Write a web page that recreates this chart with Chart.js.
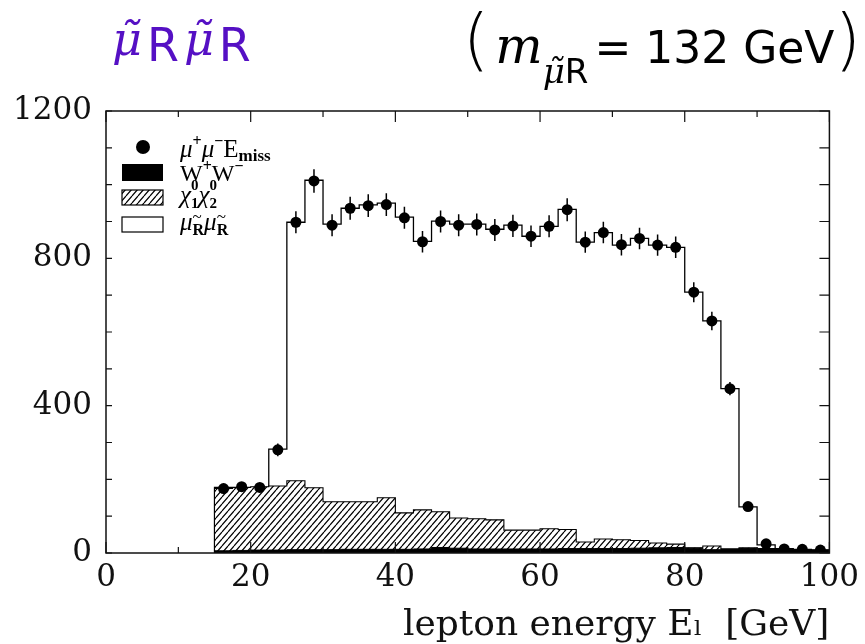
<!DOCTYPE html>
<html>
<head>
<meta charset="utf-8">
<title>smuon pair lepton energy</title>
<script src="https://cdn.jsdelivr.net/npm/chart.js@4.4.1/dist/chart.umd.min.js"></script>
<style>
body { margin: 0; background: #fff; }
#wrap { position: relative; width: 865px; height: 644px; }
#tl { position: absolute; left: 112px; top: 12px; font: 46px "DejaVu Sans"; color: #5510c4; white-space: nowrap; letter-spacing: 5px; }
#tl .mu { font-family: "DejaVu Serif"; font-style: italic; }
#tl .r { position: relative; top: 6px; }
#tr { position: absolute; right: 4px; top: 0px; font: 44px "DejaVu Sans"; color: #000; white-space: nowrap; }
#tr .p { font-size: 68px; font-weight: 200; }
#tr .m { font-family: "DejaVu Serif"; font-style: italic; font-size: 50px; margin-left: 6px; }
#tr .s { font-size: 34px; position: relative; top: 20px; margin-right: 6px; }
#tr .s i { font-family: "DejaVu Serif"; }
</style>
</head>
<body>
<div id="wrap">
  <canvas id="chart" width="865" height="644"></canvas>
  <div id="tl"><span class="mu">μ̃</span><span class="r">R</span><span class="mu">μ̃</span><span class="r">R</span></div>
  <div id="tr"><span class="p">(</span><span class="m">m</span><span class="s"><i>μ̃</i>R</span>= 132 GeV<span class="p">)</span></div>
</div>
<script>
document.addEventListener('DOMContentLoaded', () => {

//////////////////////// data (2.5 GeV bins) ////////////////////////
// lower bin edges, the last bin ends at 100
const binLo = [15, 17.5, 20, 22.5, 25, 27.5, 30, 32.5, 35, 37.5, 40, 42.5,
  45, 47.5, 50, 52.5, 55, 57.5, 60, 62.5, 65, 67.5, 70, 72.5, 75, 77.5,
  80, 82.5, 85, 87.5, 90, 92.5, 95, 97.5];
const binHi = 100;

// W+W- background (black)
const wwEvents = [6, 7, 8, 8, 9, 9, 9, 10, 10, 10, 10, 11, 15, 13, 11, 11, 11, 11,
  11, 12, 12, 12, 12, 13, 14, 15, 13, 9, 11, 12, 12, 10, 9, 8];
// chi1 chi2 background (hatched), sits on top of W+W-
const chiEvents = [169, 171, 172, 174, 187, 168, 130, 129, 129, 140, 99, 106,
  97, 82, 82, 79, 51, 51, 55, 52, 18, 26, 24, 21, 13, 9, 1, 10, 0, 2,
  0, 0, 0, 0];
// total MC including the smuon signal (white)
const totalEvents = [178, 178, 178, 282, 898, 1012, 893, 936, 945, 950, 912, 846,
  901, 893, 893, 879, 890, 860, 887, 933, 844, 870, 836, 854, 836, 830,
  708, 630, 446, 125, 22, 12, 10, 8];
// mu+ mu- E_miss data points and their errors
const dataEvents = [175, 180, 178, 280, 898, 1010, 890, 936, 943, 946, 910, 845,
  900, 890, 892, 877, 888, 860, 887, 932, 844, 870, 837, 854, 836, 830,
  708, 630, 446, 126, 25, 11, 10, 8];
const dataErrors = [13, 13, 13, 17, 30, 32, 30, 31, 31, 31, 30, 29,
  30, 30, 30, 30, 30, 29, 30, 31, 29, 29, 29, 29, 29, 29,
  27, 25, 18, 11, 5, 4, 4, 3];

const xTicks = [0, 20, 40, 60, 80, 100];
const yTicks = [0, 400, 800, 1200];
const xMinor = [0, 10, 20, 30, 40, 50, 60, 70, 80, 90, 100];
const yMinor = [0, 100, 200, 300, 400, 500, 600, 700, 800, 900, 1000, 1100, 1200];

//////////////////////// helpers ////////////////////////
// points for a stepped histogram outline, closed down to zero at both ends
function stepPoints(vals) {
  const pts = [{ x: binLo[0], y: 0 }];
  vals.forEach((v, i) => pts.push({ x: binLo[i], y: v }));
  pts.push({ x: binHi, y: vals[vals.length - 1] });
  pts.push({ x: binHi, y: 0 });
  return pts;
}

function makeHatch() {
  const w = 6, h = 7;
  const c = document.createElement('canvas');
  c.width = w; c.height = h;
  const g = c.getContext('2d');
  g.fillStyle = '#fff';
  g.fillRect(0, 0, w, h);
  g.strokeStyle = '#000';
  g.lineWidth = 1.2;
  g.beginPath();
  g.moveTo(0, h); g.lineTo(w, 0);
  g.moveTo(-w, h); g.lineTo(0, 0);
  g.moveTo(w, h); g.lineTo(2 * w, 0);
  g.stroke();
  return g.createPattern(c, 'repeat');
}
const hatch = makeHatch();

const chiTop = chiEvents.map((v, i) => v + wwEvents[i]);
const dataPoints = dataEvents.map((v, i) => ({ x: binLo[i] + 1.25, y: v }));

// draws text pieces one after another, each with its own font and shift
function rich(ctx, x, y, parts) {
  parts.forEach(p => {
    ctx.font = p.f;
    ctx.fillText(p.t, x + (p.dx || 0), y + (p.dy || 0));
    if (!p.stay) x += ctx.measureText(p.t).width;
  });
}

//////////////////////// plugins ////////////////////////
const frame = {
  id: 'frame',
  afterDatasetsDraw(chart) {
    const { ctx, chartArea: a, scales: { x, y } } = chart;
    ctx.save();
    ctx.strokeStyle = '#111';
    ctx.lineWidth = 1.5;
    ctx.strokeRect(a.left, a.top, a.right - a.left, a.bottom - a.top);
    ctx.lineWidth = 1.2;
    ctx.beginPath();
    xMinor.forEach(v => {
      const px = x.getPixelForValue(v);
      const len = v % 20 === 0 ? 11 : 6;
      ctx.moveTo(px, a.top); ctx.lineTo(px, a.top + len);
      ctx.moveTo(px, a.bottom); ctx.lineTo(px, a.bottom - len);
    });
    yMinor.forEach(v => {
      const py = y.getPixelForValue(v);
      ctx.moveTo(a.left, py); ctx.lineTo(a.left + 6, py);
      ctx.moveTo(a.right, py); ctx.lineTo(a.right - 10, py);
    });
    ctx.stroke();
    ctx.restore();
  }
};

const errorBars = {
  id: 'errorBars',
  afterDatasetsDraw(chart) {
    const { ctx, scales: { x, y } } = chart;
    ctx.save();
    ctx.strokeStyle = '#000';
    ctx.lineWidth = 1.5;
    ctx.beginPath();
    dataEvents.forEach((v, i) => {
      const px = x.getPixelForValue(binLo[i] + 1.25);
      ctx.moveTo(px, y.getPixelForValue(v - dataErrors[i]));
      ctx.lineTo(px, y.getPixelForValue(v + dataErrors[i]));
    });
    ctx.stroke();
    ctx.restore();
  }
};

const legendBox = {
  id: 'legendBox',
  afterDraw(chart) {
    const ctx = chart.ctx;
    const serif = '"Liberation Serif"';
    const big = 'italic 25px ' + serif;
    ctx.save();
    ctx.fillStyle = '#000';
    ctx.strokeStyle = '#000';
    ctx.lineWidth = 1.2;
    ctx.textBaseline = 'alphabetic';
    ctx.textAlign = 'left';
    // data symbol
    ctx.beginPath();
    ctx.arc(143, 147, 7, 0, Math.PI * 2);
    ctx.fill();
    rich(ctx, 180, 157, [
      { t: 'μ', f: big },
      { t: '+', f: 'bold 16px ' + serif, dy: -11 },
      { t: 'μ', f: big },
      { t: '−', f: 'bold 16px ' + serif, dy: -11 },
      { t: 'E', f: '25px ' + serif },
      { t: 'miss', f: 'bold 17px ' + serif, dy: 4 }
    ]);
    // W+W-
    ctx.fillRect(122, 164, 41, 17);
    rich(ctx, 180, 181, [
      { t: 'W', f: '24px ' + serif },
      { t: '+', f: 'bold 16px ' + serif, dy: -10 },
      { t: 'W', f: '24px ' + serif },
      { t: '−', f: 'bold 16px ' + serif, dy: -10 }
    ]);
    // chi chi
    ctx.fillStyle = hatch;
    ctx.fillRect(122, 190, 41, 15);
    ctx.strokeRect(122, 190, 41, 15);
    ctx.fillStyle = '#000';
    rich(ctx, 180, 203, [
      { t: 'χ', f: big },
      { t: '0', f: 'bold 15px ' + serif, dy: -13, stay: true },
      { t: '1', f: 'bold 15px ' + serif, dy: 5 },
      { t: 'χ', f: big },
      { t: '0', f: 'bold 15px ' + serif, dy: -13, stay: true },
      { t: '2', f: 'bold 15px ' + serif, dy: 5 }
    ]);
    // smuon pair
    ctx.fillStyle = '#fff';
    ctx.fillRect(122, 217, 41, 15);
    ctx.strokeRect(122, 217, 41, 15);
    ctx.fillStyle = '#000';
    rich(ctx, 180, 230, [
      { t: 'μ', f: big },
      { t: '~', f: '17px ' + serif, dy: -8, stay: true },
      { t: 'R', f: 'bold 16px ' + serif, dy: 5 },
      { t: 'μ', f: big },
      { t: '~', f: '17px ' + serif, dy: -8, stay: true },
      { t: 'R', f: 'bold 16px ' + serif, dy: 5 }
    ]);
    ctx.restore();
  }
};

//////////////////////// chart ////////////////////////
const tickFont = { family: '"DejaVu Serif"', size: 31 };

new Chart(document.getElementById('chart'), {
  type: 'line',
  data: {
    datasets: [
      {
        label: 'μ+μ- E_miss',
        data: dataPoints,
        showLine: false,
        pointRadius: 5.5,
        pointHoverRadius: 5.5,
        pointBackgroundColor: '#000',
        pointBorderColor: '#000',
        pointBorderWidth: 0
      },
      {
        label: 'W+W-',
        data: stepPoints(wwEvents),
        stepped: 'before',
        borderColor: '#000',
        borderWidth: 1,
        backgroundColor: '#000',
        fill: 'origin',
        pointRadius: 0
      },
      {
        label: 'χ1χ2',
        data: stepPoints(chiTop),
        stepped: 'before',
        borderColor: '#000',
        borderWidth: 1.1,
        backgroundColor: hatch,
        fill: 'origin',
        pointRadius: 0
      },
      {
        label: 'smuon pair',
        data: stepPoints(totalEvents),
        stepped: 'before',
        borderColor: '#000',
        borderWidth: 1.3,
        backgroundColor: '#fff',
        fill: 'origin',
        pointRadius: 0
      }
    ]
  },
  options: {
    responsive: false,
    animation: false,
    events: [],
    layout: { padding: { left: 0, top: 111, right: 34, bottom: 0 } },
    plugins: {
      legend: { display: false },
      tooltip: { enabled: false }
    },
    scales: {
      x: {
        type: 'linear',
        min: 0,
        max: 100,
        afterFit: s => { s.height = 91; },
        afterBuildTicks: s => { s.ticks = xTicks.map(v => ({ value: v })); },
        grid: { display: false, drawTicks: false },
        border: { display: false },
        ticks: { color: '#111', font: tickFont, padding: 6, maxRotation: 0, callback: v => String(v) },
        title: {
          display: true,
          text: 'lepton energy Eₗ  [GeV]',
          align: 'end',
          color: '#111',
          font: { family: '"DejaVu Serif"', size: 36 },
          padding: { top: 0, bottom: -3 }
        }
      },
      y: {
        min: 0,
        max: 1200,
        afterFit: s => { s.width = 106; },
        afterBuildTicks: s => { s.ticks = yTicks.map(v => ({ value: v })); },
        grid: { display: false, drawTicks: false },
        border: { display: false },
        ticks: { color: '#111', font: tickFont, padding: 14, callback: v => String(v) }
      }
    }
  },
  plugins: [frame, errorBars, legendBox]
});

});
</script>
</body>
</html>
